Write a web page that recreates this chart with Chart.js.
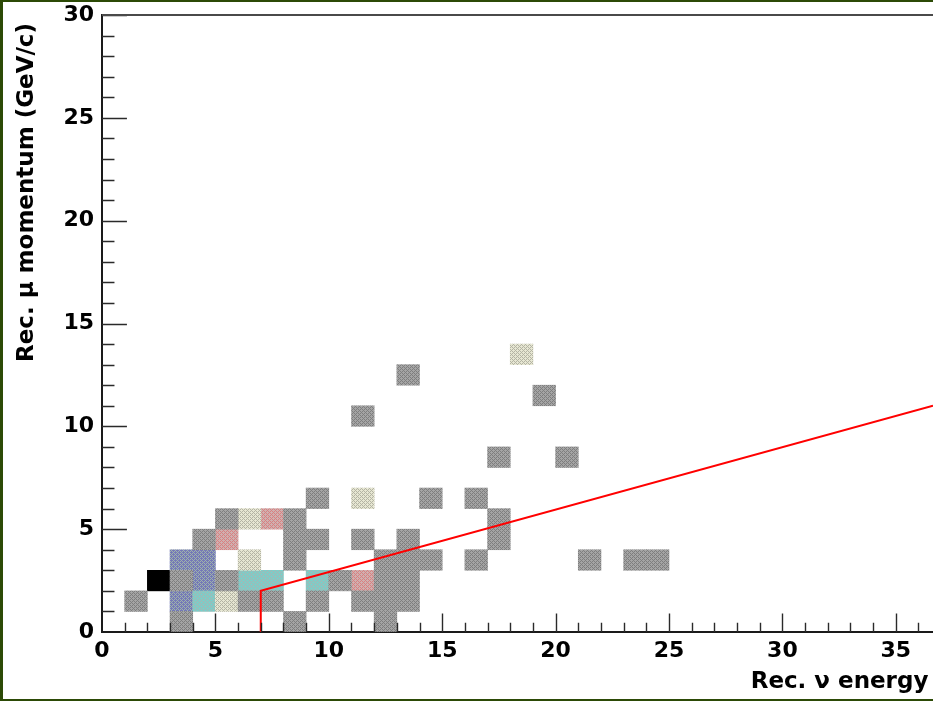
<!DOCTYPE html>
<html>
<head>
<meta charset="utf-8">
<script src="https://cdn.jsdelivr.net/npm/chart.js@4/dist/chart.umd.min.js"></script>
<style>
  html, body { margin: 0; padding: 0; background: #fff; }
  #frame {
    position: relative; width: 933px; height: 701px; box-sizing: border-box;
    border-left: 3px solid #2c4a06; border-top: 2px solid #2c4a06; border-bottom: 2px solid #2c4a06;
    background: #fff; overflow: hidden;
  }
  #c { display: block; }
</style>
</head>
<body>
<div id="frame"><canvas id="c" width="930" height="697"></canvas></div>
<script>
// Axis ranges
const energyRange = [0, 36.64];
const momentumRange = [0, 30];
const energyTicks = [0,1,2,3,4,5,6,7,8,9,10,11,12,13,14,15,16,17,18,19,20,21,22,23,24,25,26,27,28,29,30,31,32,33,34,35,36];
const momentumTicks = [0,1,2,3,4,5,6,7,8,9,10,11,12,13,14,15,16,17,18,19,20,21,22,23,24,25,26,27,28,29,30];

// Filled bins, given as [energy bin low edge, momentum bin low edge], grouped by content level
const cellsGray = [
  [13,12],[19,11],[11,10],[17,8],[20,8],
  [9,6],[14,6],[16,6],
  [5,5],[8,5],[17,5],
  [4,4],[8,4],[9,4],[11,4],[13,4],[17,4],
  [8,3],[12,3],[13,3],[14,3],[16,3],[21,3],[23,3],[24,3],
  [3,2],[5,2],[10,2],[12,2],[13,2],
  [1,1],[6,1],[7,1],[9,1],[11,1],[12,1],[13,1],
  [3,0],[8,0],[12,0]
];
const cellsBeige = [[18,13],[11,6],[6,5],[6,3],[5,1]];
const cellsPink  = [[7,5],[5,4],[11,2]];
const cellsCyan  = [[6,2],[7,2],[9,2],[4,1]];
const cellsBlue  = [[3,3],[4,3],[4,2],[3,1]];
const cellsBlack = [[2,2]];

// Selection cut drawn in red
const cutEnergy   = [7, 7, 36.64];
const cutMomentum = [0, 2, 11];

// Dithered fill: base colour with a diagonal lattice of a second colour
function dither(base, mark) {
  const t = document.createElement('canvas');
  t.width = 4; t.height = 4;
  const g = t.getContext('2d');
  g.fillStyle = base; g.fillRect(0, 0, 4, 4);
  g.fillStyle = mark;
  for (let i = 0; i < 4; i++) for (let j = 0; j < 4; j++) {
    if ((i + j) % 4 === 0 || ((i - j) + 4) % 4 === 0) g.fillRect(i, j, 1, 1);
  }
  return g.createPattern(t, 'repeat');
}

function cellData(cells) {
  return cells.map(([e, p]) => ({ x: e + 0.5, y: [p, p + 1] }));
}
function cellSet(cells, fill) {
  return {
    type: 'bar', data: cellData(cells), backgroundColor: fill,
    borderWidth: 0, borderSkipped: false, grouped: false,
    barPercentage: 1, categoryPercentage: 1, order: 2
  };
}

const tickFont = { family: 'DejaVu Sans', weight: 'bold', size: 22, lineHeight: 1 };
const titleFont = { family: 'DejaVu Sans', weight: 'bold', size: 23 };

// ROOT-style tick marks drawn inside the frame, plus the upper frame edge
const insideTicks = {
  id: 'insideTicks',
  afterDraw(chart) {
    const { ctx, chartArea: a, scales: { x, y } } = chart;
    const h = a.bottom - a.top, w = a.right - a.left;
    ctx.save();
    ctx.strokeStyle = '#2a2a2a';
    ctx.lineWidth = 1.4;
    ctx.beginPath();
    x.ticks.forEach(t => {
      if (t.value === 0) return;
      const px = Math.round(x.getPixelForValue(t.value)) + 0.5;
      const len = (t.value % 5 === 0 ? 0.03 : 0.015) * h;
      ctx.moveTo(px, a.bottom); ctx.lineTo(px, a.bottom - len);
    });
    y.ticks.forEach(t => {
      if (t.value === 0) return;
      const py = Math.round(y.getPixelForValue(t.value)) + 0.5;
      const len = (t.value % 5 === 0 ? 0.03 : 0.015) * w;
      ctx.moveTo(a.left, py); ctx.lineTo(a.left + len, py);
    });
    ctx.stroke();
    ctx.strokeStyle = '#4a4a4a';
    ctx.lineWidth = 2;
    ctx.beginPath();
    ctx.moveTo(a.left, a.top); ctx.lineTo(a.right, a.top);
    ctx.stroke();
    ctx.restore();
  }
};

const hiddenTickMarks = { display: true, drawOnChartArea: false, drawTicks: true, tickLength: 8, tickColor: 'rgba(0,0,0,0)', offset: false };

new Chart(document.getElementById('c'), {
  data: {
    datasets: [
      cellSet(cellsGray,  dither('#a4a4a4', '#7e7e7e')),
      cellSet(cellsBeige, dither('#e6e6d2', '#b4b4a4')),
      cellSet(cellsPink,  dither('#d0b0b0', '#d88080')),
      cellSet(cellsCyan,  dither('#7acfca', '#a6b6b2')),
      cellSet(cellsBlue,  dither('#7478b8', '#9eb2aa')),
      cellSet(cellsBlack, '#000000'),
      {
        type: 'line',
        data: cutEnergy.map((e, i) => ({ x: e, y: cutMomentum[i] })),
        borderColor: '#ff0000', borderWidth: 2, pointRadius: 0,
        fill: false, tension: 0, order: 1
      }
    ]
  },
  options: {
    responsive: false,
    animation: false,
    events: [],
    layout: { padding: { left: 0, top: 13, right: 0, bottom: 0 } },
    plugins: { legend: { display: false }, tooltip: { enabled: false } },
    scales: {
      x: {
        type: 'linear', position: 'bottom', offset: false,
        min: energyRange[0], max: energyRange[1], z: 1,
        afterBuildTicks: s => { s.ticks = energyTicks.map(v => ({ value: v })); },
        afterFit: s => { s.height = 67; },
        ticks: {
          autoSkip: false, maxRotation: 0, padding: 0, color: '#000', font: tickFont,
          callback: v => (v % 5 === 0 ? String(v) : '')
        },
        grid: hiddenTickMarks,
        border: { display: true, color: '#1a1a1a', width: 2 },
        title: {
          display: true, text: 'Rec. ν energy\u2009', align: 'end', color: '#000',
          font: titleFont, padding: { top: 0, bottom: 3 }
        }
      },
      y: {
        type: 'linear', position: 'left', offset: false,
        min: momentumRange[0], max: momentumRange[1], z: 1,
        afterBuildTicks: s => { s.ticks = momentumTicks.map(v => ({ value: v })); },
        afterFit: s => { s.width = 99; },
        ticks: {
          autoSkip: false, padding: 0, color: '#000', font: tickFont,
          callback: v => (v % 5 === 0 ? String(v) : '')
        },
        grid: hiddenTickMarks,
        border: { display: true, color: '#1a1a1a', width: 2 },
        title: {
          display: true, text: 'Rec. μ momentum (GeV/c) ', align: 'end', color: '#000',
          font: titleFont, padding: { top: 10, bottom: 0 }
        }
      }
    }
  },
  plugins: [insideTicks]
});
</script>
</body>
</html>
